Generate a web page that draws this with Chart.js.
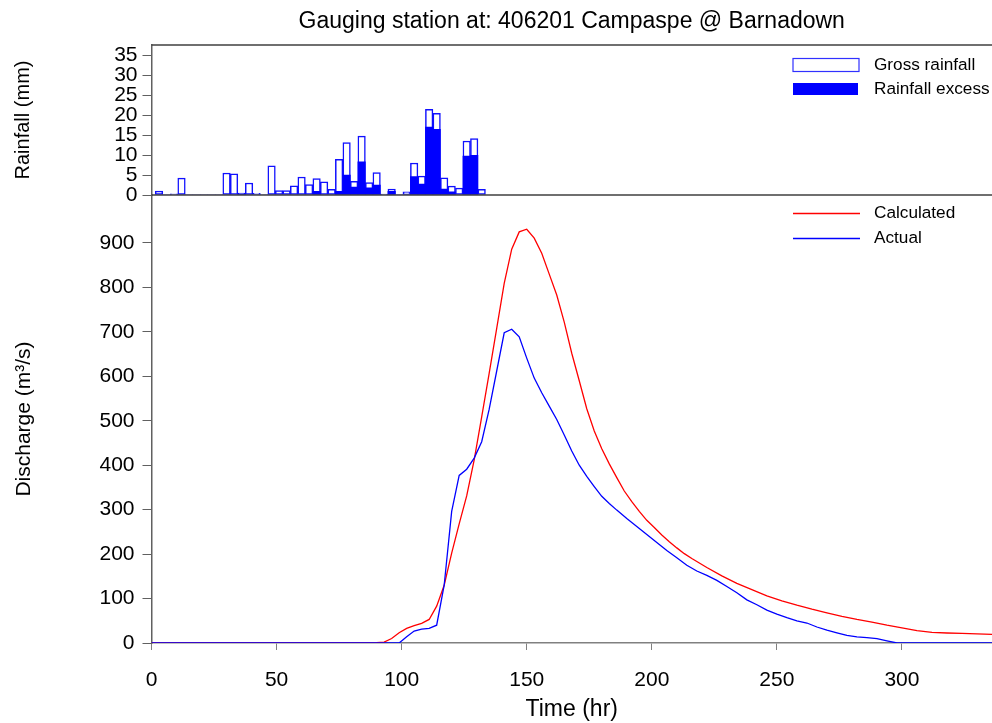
<!DOCTYPE html>
<html>
<head>
<meta charset="utf-8">
<script src="https://cdn.jsdelivr.net/npm/chart.js@4.4.1/dist/chart.umd.min.js"></script>
<style>
  body { margin: 0; background: #fff; }
</style>
</head>
<body>
<canvas id="myChart" width="992" height="723"></canvas>
<script>
const canvas = document.getElementById('myChart')

// rainfall, 3 hour blocks (mm)
const barTimes = [3, 6, 9, 12, 15, 18, 21, 24, 27, 30, 33, 36, 39, 42, 45, 48, 51, 54, 57, 60, 63, 66,
                  69, 72, 75, 78, 81, 84, 87, 90, 93, 96, 99, 102, 105, 108, 111, 114, 117, 120, 123, 126, 129, 132]
const grossRain = [1.0, 0, 0.3, 4.2, 0, 0, 0, 0, 0, 5.5, 5.3, 0.5, 3.0, 0.4, 0, 7.3, 1.1, 1.1, 2.3, 4.5, 2.6, 4.1,
                   3.3, 1.4, 8.9, 13.1, 3.4, 14.7, 3.1, 5.6, 0.2, 1.5, 0, 0.8, 8.0, 4.7, 21.4, 20.4, 4.3, 2.2, 1.7, 13.5, 14.1, 1.4]
const excessRain = [0, 0, 0, 0, 0, 0, 0, 0, 0, 0, 0, 0.3, 0, 0, 0, 0, 0, 0, 0, 0, 0, 0.9,
                    0, 0, 0.9, 5.0, 2.0, 8.3, 1.8, 2.5, 0, 0.9, 0, 0, 4.6, 2.7, 17.0, 16.4, 1.5, 0.8, 0, 9.7, 9.9, 0]

// discharge (m3/s)
const calcTimes = [0, 90, 93, 96, 99, 102, 105, 108, 111, 114, 117, 120, 123, 126, 129, 132, 135, 138, 141, 144, 147,
                   150, 153, 156, 159, 162, 165, 168, 171, 174, 177, 180, 183, 186, 189, 192, 195, 198, 201, 204, 207,
                   210, 213, 216, 222, 228, 234, 240, 246, 252, 258, 264, 270, 276, 282, 288, 294, 300, 306, 312, 318,
                   324, 330, 336]
const calcFlow = [0, 1, 2, 10, 23, 33, 39, 44, 53, 83, 130, 202, 268, 331, 412, 509, 607, 708, 809, 886, 925,
                  931, 911, 877, 830, 783, 722, 652, 590, 527, 477, 437, 403, 372, 342, 318, 296, 276, 260, 243, 228,
                  214, 201, 190, 170, 151, 134, 120, 106, 95, 85, 76, 68, 60, 53, 47, 40, 34, 28, 24, 22.5,
                  21.5, 20.5, 19.5]
const actualTimes = [0, 99, 102, 105, 108, 111, 114, 117, 120, 123, 126, 129, 132, 135, 138, 141, 144, 147, 150, 153,
                     156, 159, 162, 165, 168, 171, 174, 177, 180, 183, 186, 190, 194, 198, 202, 206, 210, 214, 218, 222,
                     226, 230, 234, 238, 242, 246, 250, 254, 258, 262, 266, 270, 274, 278, 282, 286, 290, 294, 298, 336]
const actualFlow = [0, 0, 14, 27, 31, 33, 40, 130, 296, 377, 391, 416, 453, 526, 612, 698, 706, 689, 641, 596,
                    563, 533, 503, 468, 432, 400, 375, 352, 330, 314, 299, 280, 262, 244, 226, 208, 192, 175, 162, 152,
                    141, 127, 113, 97, 86, 74, 65, 57, 50, 45, 36, 29, 23, 17, 14, 12, 10, 5, 0, 0]

const timeTicks = [0, 50, 100, 150, 200, 250, 300]
const rainTicks = [0, 5, 10, 15, 20, 25, 30, 35]
const flowTicks = [0, 100, 200, 300, 400, 500, 600, 700, 800, 900]

const rainLegend = ['Gross rainfall', 'Rainfall excess']
const flowLegend = ['Calculated', 'Actual']

const pairs = (xs, ys) => xs.map((x, i) => ({x: x, y: ys[i]}))
const fixedTicks = list => scale => { scale.ticks = list.map(v => ({value: v})) }

Chart.defaults.font.family = '"Liberation Sans", Arial, sans-serif'
Chart.defaults.color = '#000'

// separator lines + the two legends drawn inside the panels
const panelExtras = {
    id: 'panelExtras',
    afterDraw(chart) {
        const {ctx, chartArea} = chart
        const rain = chart.scales.rain
        const flow = chart.scales.flow
        ctx.save()
        ctx.strokeStyle = '#404040'
        ctx.lineWidth = 1.5
        ctx.beginPath()
        ctx.moveTo(chartArea.left, rain.top)
        ctx.lineTo(chartArea.right, rain.top)
        ctx.moveTo(chartArea.left, rain.bottom)
        ctx.lineTo(chartArea.right, rain.bottom)
        ctx.stroke()

        const sx = Math.round(chartArea.right - 199)
        const tx = chartArea.right - 118
        const rt = Math.round(rain.top)
        const ft = Math.round(flow.top)
        ctx.font = '17.2px "Liberation Sans", Arial, sans-serif'
        ctx.textBaseline = 'middle'

        // rainfall legend
        ctx.fillStyle = '#fff'
        ctx.fillRect(sx, rt + 13.5, 66, 13)
        ctx.strokeStyle = '#3030ff'
        ctx.lineWidth = 1.2
        ctx.strokeRect(sx, rt + 13.5, 66, 13)
        ctx.fillStyle = '#0000ff'
        ctx.fillRect(sx, rt + 38, 65, 12)
        ctx.fillStyle = '#000'
        ctx.fillText(rainLegend[0], tx, rt + 20)
        ctx.fillText(rainLegend[1], tx, rt + 44)

        // discharge legend
        const lineColours = ['#ff0000', '#0000ff']
        const lineOffsets = [18.5, 43.5]
        for (let i = 0; i < 2; i++) {
            ctx.strokeStyle = lineColours[i]
            ctx.lineWidth = 1.3
            ctx.beginPath()
            ctx.moveTo(sx, ft + lineOffsets[i])
            ctx.lineTo(sx + 67, ft + lineOffsets[i])
            ctx.stroke()
            ctx.fillStyle = '#000'
            ctx.fillText(flowLegend[i], tx, ft + lineOffsets[i])
        }
        ctx.restore()
    }
}

const config = {
    type: 'line',
    data: {
        datasets: [
            {
                type: 'bar', label: rainLegend[1], yAxisID: 'rain', order: 2,
                data: pairs(barTimes, excessRain),
                backgroundColor: '#0000ff', borderWidth: 0,
                grouped: false, categoryPercentage: 1, barPercentage: 1
            },
            {
                type: 'bar', label: rainLegend[0], yAxisID: 'rain', order: 3,
                data: pairs(barTimes, grossRain),
                backgroundColor: '#ffffff', borderColor: '#1010ff', borderWidth: 1.5, borderSkipped: false,
                grouped: false, categoryPercentage: 1, barPercentage: 1
            },
            {
                label: flowLegend[0], yAxisID: 'flow', order: 1,
                data: pairs(calcTimes, calcFlow),
                borderColor: '#ff0000', borderWidth: 1.3, pointRadius: 0, tension: 0
            },
            {
                label: flowLegend[1], yAxisID: 'flow', order: 0,
                data: pairs(actualTimes, actualFlow),
                borderColor: '#0000ff', borderWidth: 1.3, pointRadius: 0, tension: 0
            }
        ]
    },
    options: {
        responsive: false,
        animation: false,
        devicePixelRatio: 1,
        layout: {padding: 0},
        plugins: {
            legend: {display: false},
            tooltip: {enabled: false},
            title: {
                display: true,
                fullSize: false,
                text: 'Gauging station at: 406201 Campaspe @ Barnadown',
                font: {size: 23, weight: 'normal'},
                padding: {top: 8, bottom: 9.4},
                color: '#000'
            }
        },
        scales: {
            x: {
                type: 'linear', min: 0, max: 336, offset: false,
                afterBuildTicks: fixedTicks(timeTicks),
                afterFit: s => { s.height = 80 },
                grid: {drawOnChartArea: false, offset: false, tickLength: 7, color: '#808080'},
                border: {color: '#808080', width: 1.5},
                ticks: {font: {size: 21}, padding: 18, maxRotation: 0},
                title: {display: true, text: 'Time (hr)', font: {size: 23}, padding: {top: 4, bottom: 0}}
            },
            flow: {
                type: 'linear', position: 'left', stack: 'panels', stackWeight: 448,
                min: 0, max: 1008,
                afterBuildTicks: fixedTicks(flowTicks),
                afterFit: s => { s.width = 151.5 },
                grid: {drawOnChartArea: false, tickLength: 9, color: '#606060'},
                border: {color: '#606060', width: 1.5},
                ticks: {font: {size: 21}, padding: 8, autoSkip: false},
                title: {display: true, text: 'Discharge (m³/s)', font: {size: 21}, padding: {top: 12, bottom: 0}}
            },
            rain: {
                type: 'linear', position: 'left', stack: 'panels', stackWeight: 150,
                min: 0, max: 37.5,
                afterBuildTicks: fixedTicks(rainTicks),
                afterFit: s => { s.width = 151.5 },
                grid: {drawOnChartArea: false, tickLength: 9, color: '#606060'},
                border: {color: '#606060', width: 1.5},
                ticks: {font: {size: 21}, padding: 5, autoSkip: false},
                title: {display: true, text: 'Rainfall (mm)', font: {size: 20}, padding: {top: 11, bottom: 0}}
            }
        }
    },
    plugins: [panelExtras]
}

const myChart = new Chart(canvas, config)
</script>
</body>
</html>
